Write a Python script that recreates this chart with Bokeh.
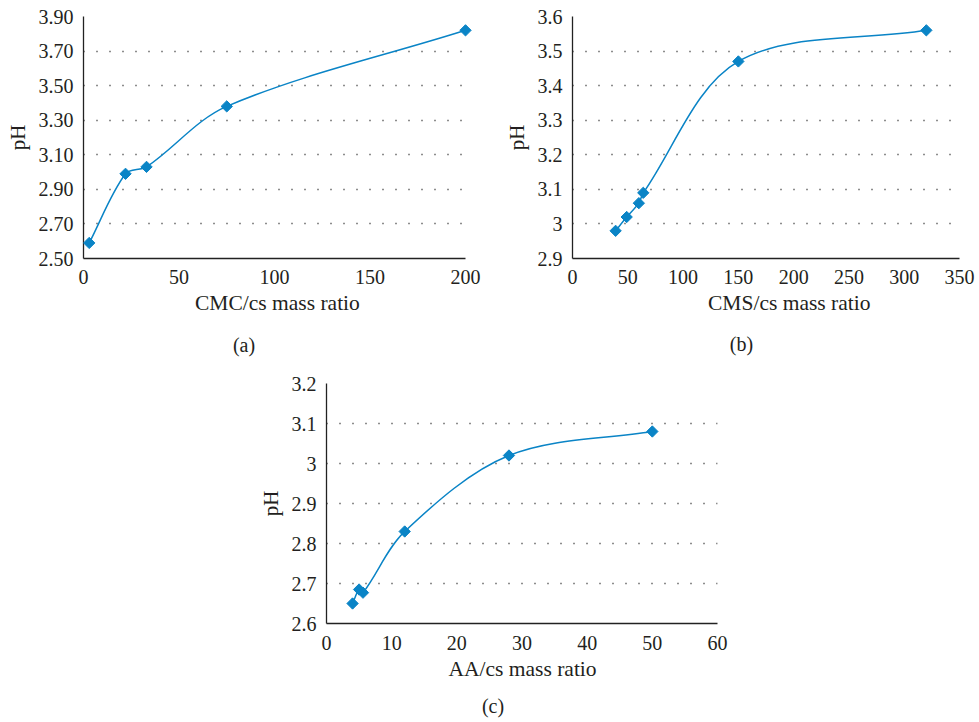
import numpy as np
from bokeh.plotting import figure
from bokeh.models import FixedTicker, Title, Spacer
from bokeh.layouts import column, row
from bokeh.embed import file_html
from bokeh.resources import INLINE

# ---------------- data ----------------
cmc_ratio = [3, 22, 33, 75, 200]
cmc_ph = [2.59, 2.99, 3.03, 3.38, 3.82]

cms_ratio = [39, 49, 60, 64, 150, 320]
cms_ph = [2.98, 3.02, 3.06, 3.09, 3.47, 3.56]

aa_ratio = [4, 5, 5.6, 12, 28, 50]
aa_ph = [2.65, 2.685, 2.677, 2.83, 3.02, 3.08]

a_xticks = [0, 50, 100, 150, 200]
a_yticks = [2.5, 2.7, 2.9, 3.1, 3.3, 3.5, 3.7, 3.9]
a_ylabels = ["2.50", "2.70", "2.90", "3.10", "3.30", "3.50", "3.70", "3.90"]

b_xticks = [0, 50, 100, 150, 200, 250, 300, 350]
b_yticks = [2.9, 3.0, 3.1, 3.2, 3.3, 3.4, 3.5, 3.6]
b_ylabels = ["2.9", "3", "3.1", "3.2", "3.3", "3.4", "3.5", "3.6"]

c_xticks = [0, 10, 20, 30, 40, 50, 60]
c_yticks = [2.6, 2.7, 2.8, 2.9, 3.0, 3.1, 3.2]
c_ylabels = ["2.6", "2.7", "2.8", "2.9", "3", "3.1", "3.2"]

labels_x = ["CMC/cs mass ratio", "CMS/cs mass ratio", "AA/cs mass ratio"]
captions = ["(a)", "(b)", "(c)"]
y_label = "pH"

BLUE = "#0a84c6"
FONT = "Liberation Serif"
TXT = "#231f20"


def smooth_segments(xs, ys, sx, sy):
    """Cubic Bezier segments through the points (chord-length scaled tangents,
    evaluated in screen proportions sx, sy px per data unit)."""
    x = np.asarray(xs, float)
    y = np.asarray(ys, float)
    d = np.hypot(np.diff(x) * sx, np.diff(y) * sy)          # segment lengths
    dprev = np.concatenate([[0.0], d])
    dnext = np.concatenate([d, [0.0]])
    xprev = np.concatenate([[x[0]], x[:-1]])
    yprev = np.concatenate([[y[0]], y[:-1]])
    xnext = np.concatenate([x[1:], [x[-1]]])
    ynext = np.concatenate([y[1:], [y[-1]]])
    tx = xnext - xprev
    ty = ynext - yprev
    tot = dprev + dnext
    kout = dnext / (3.0 * tot)
    kin = dprev / (3.0 * tot)
    cox, coy = x + tx * kout, y + ty * kout
    cix, ciy = x - tx * kin, y - ty * kin
    return dict(x0=x[:-1], y0=y[:-1], x1=x[1:], y1=y[1:],
                cx0=cox[:-1], cy0=coy[:-1], cx1=cix[1:], cy1=ciy[1:])


def panel(xs, ys, xticks, yticks, ylabels, xlabel, caption,
          W, H, bl, br, bt, bb, xl_off, cap_off, tick_so, xl_so, gap_so):
    p = figure(width=W, height=H,
               x_range=(xticks[0], xticks[-1]),
               y_range=(yticks[0], yticks[-1]),
               output_backend="svg", toolbar_location=None,
               min_border_left=bl, min_border_right=br,
               min_border_top=bt, min_border_bottom=bb)
    p.outline_line_color = None
    p.background_fill_color = "white"
    p.border_fill_color = "white"

    p.xgrid.visible = False
    p.ygrid.ticker = FixedTicker(ticks=yticks)
    p.ygrid.grid_line_color = "#1a1a1a"
    p.ygrid.grid_line_width = 1.3
    p.ygrid.grid_line_dash = "1 12"

    for ax in (p.xaxis[0], p.yaxis[0]):
        ax.axis_line_color = "#222222"
        ax.axis_line_width = 1.3
        ax.major_tick_line_color = None
        ax.minor_tick_line_color = None
        ax.major_tick_out = 0
        ax.major_tick_in = 0
        ax.major_label_text_font = FONT
        ax.major_label_text_font_size = "20px"
        ax.major_label_text_color = TXT

    p.xaxis.ticker = FixedTicker(ticks=xticks)
    p.xaxis.major_label_standoff = tick_so
    p.yaxis.ticker = FixedTicker(ticks=yticks)
    p.yaxis.major_label_overrides = {t: s for t, s in zip(yticks, ylabels)}
    p.yaxis.major_label_standoff = 10
    p.yaxis.axis_label = y_label
    p.yaxis.axis_label_text_font = FONT
    p.yaxis.axis_label_text_font_size = "21px"
    p.yaxis.axis_label_text_font_style = "normal"
    p.yaxis.axis_label_text_color = TXT
    p.yaxis.axis_label_standoff = 6

    p.add_layout(Title(text=xlabel, align="left", offset=xl_off,
                       text_font=FONT, text_font_size="21.5px",
                       text_font_style="normal", text_color=TXT,
                       standoff=xl_so), "below")
    p.add_layout(Title(text=" ", align="left", offset=0,
                       text_font=FONT, text_font_size="2px",
                       text_color="white", standoff=gap_so), "below")
    p.add_layout(Title(text=caption, align="left", offset=cap_off,
                       text_font=FONT, text_font_size="20px",
                       text_font_style="normal", text_color=TXT,
                       standoff=0), "below")

    fw = W - bl - br
    fh = H - bt - bb
    seg = smooth_segments(xs, ys, fw / (xticks[-1] - xticks[0]),
                          fh / (yticks[-1] - yticks[0]))
    p.bezier(x0=seg["x0"], y0=seg["y0"], x1=seg["x1"], y1=seg["y1"],
             cx0=seg["cx0"], cy0=seg["cy0"], cx1=seg["cx1"], cy1=seg["cy1"],
             line_color=BLUE, line_width=1.5)
    p.scatter(xs, ys, marker="square", angle=np.pi / 4, size=8,
              fill_color=BLUE, line_color=BLUE, line_width=1, level="overlay")
    return p


pa = panel(cmc_ratio, cmc_ph, a_xticks, a_yticks, a_ylabels, labels_x[0], captions[0],
           W=490, H=372, bl=83, br=25, bt=16, bb=114,
           xl_off=111.5, cap_off=149.4, tick_so=11, xl_so=4, gap_so=11)
pb = panel(cms_ratio, cms_ph, b_xticks, b_yticks, b_ylabels, labels_x[1], captions[1],
           W=487, H=372, bl=82, br=18, bt=16, bb=112,
           xl_off=135.5, cap_off=157.3, tick_so=11, xl_so=4, gap_so=10)
pc = panel(aa_ratio, aa_ph, c_xticks, c_yticks, c_ylabels, labels_x[2], captions[2],
           W=487, H=350, bl=70, br=25, bt=11, bb=99,
           xl_off=122, cap_off=155.4, tick_so=12, xl_so=5, gap_so=5)

layout = column(row(pa, pb, spacing=0),
                row(Spacer(width=255, height=350), pc, spacing=0),
                spacing=0)

open("out.html", "w").write(file_html(layout, INLINE))
